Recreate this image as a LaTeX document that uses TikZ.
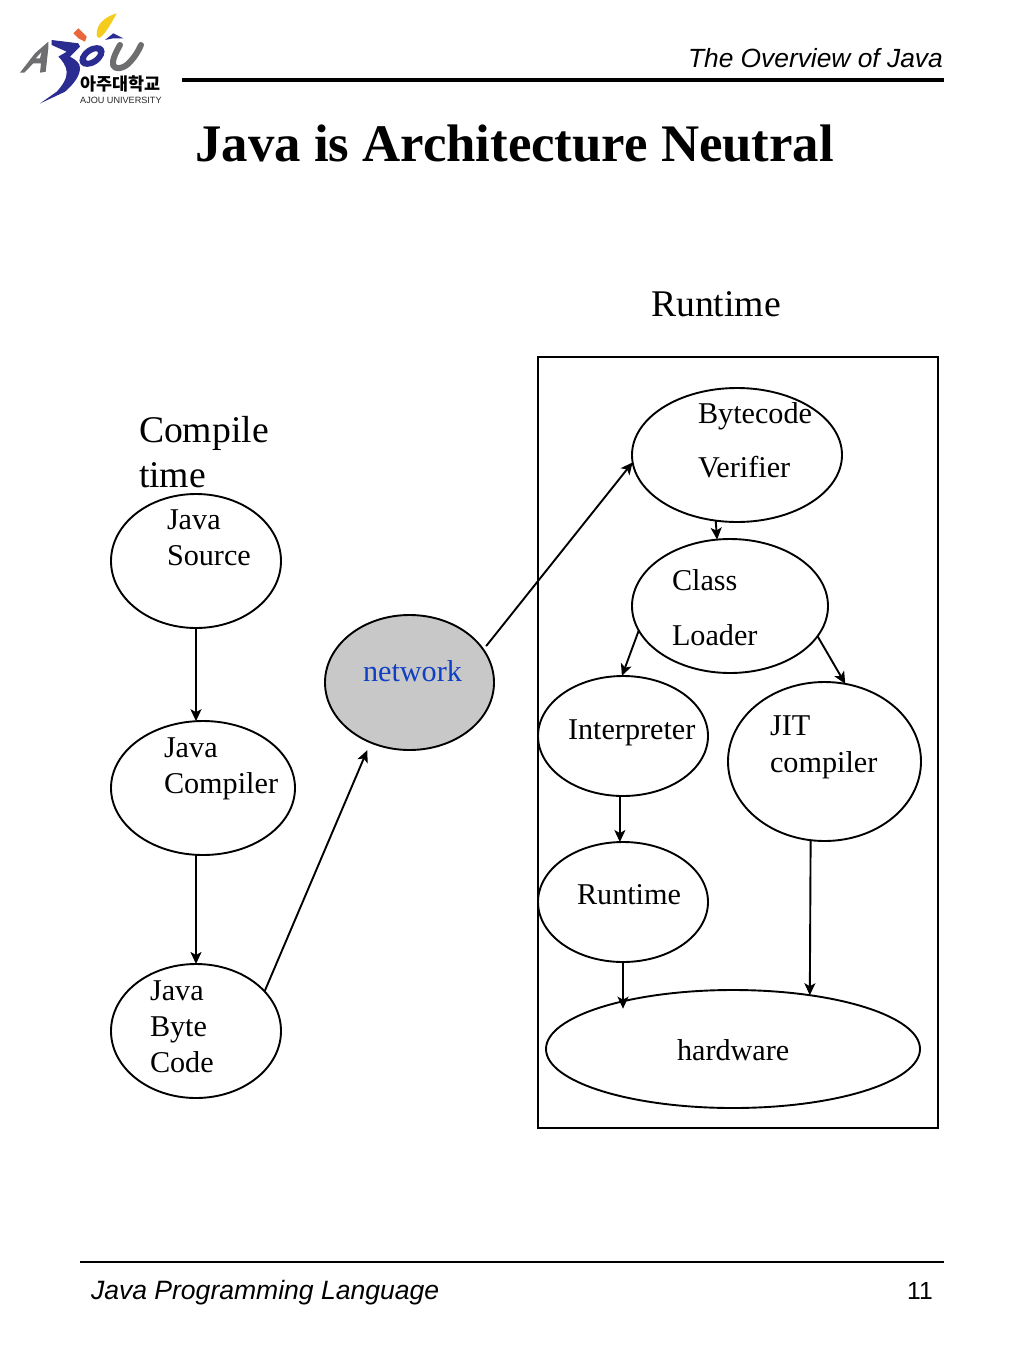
\documentclass[tikz,border=0pt]{standalone}
\usepackage{fontspec}
\setmainfont{Liberation Serif}
\setsansfont{Liberation Sans}
\newfontfamily\krfont{Noto Sans CJK KR}
\usetikzlibrary{shapes.geometric,arrows.meta}
\definecolor{logoblue}{HTML}{2B2C92}
\definecolor{logogray}{HTML}{6E6E70}
\definecolor{logoyellow}{HTML}{F5CC1E}
\definecolor{logoorange}{HTML}{E8683C}
\definecolor{netblue}{HTML}{0F3FC4}
\definecolor{netgray}{HTML}{C8C8C8}
\tikzset{
  x=1pt,y=-1pt,
  proc/.style={ellipse,draw=black,line width=1.9pt,inner sep=0pt,outer sep=0pt},
  lab/.style={anchor=base west,inner sep=0pt,outer sep=0pt,font=\fontsize{30.2}{36}\selectfont},
  bigl/.style={anchor=base west,inner sep=0pt,outer sep=0pt,font=\fontsize{37.7}{45}\selectfont},
  hdr/.style={anchor=base west,inner sep=0pt,outer sep=0pt,font=\sffamily\itshape\fontsize{26.35}{32}\selectfont},
  ftr/.style={anchor=base west,inner sep=0pt,outer sep=0pt,font=\sffamily\itshape\fontsize{26.55}{32}\selectfont},
  flow/.style={draw=black,line width=1.9pt,-{Stealth[length=12pt,width=11pt,inset=3pt]}},
  rulel/.style={draw=black,line cap=butt}
}
\newcommand{\procnode}[6]{\node[proc,minimum width=#4 pt,minimum height=#5 pt,#6] (#1) at (#2,#3) {};}
\begin{document}
\begin{tikzpicture}
\useasboundingbox (0,0) rectangle (1024,1365);
\fill[white] (0,0) rectangle (1024,1365);
% logo
\fill[logoyellow] (116.7,13.3) .. controls (104,17) and (96,25) .. (96.7,35) .. controls (97,38) and (100,39) .. (102,36) .. controls (107,31) and (112,22) .. (116.7,13.3) -- cycle;
\fill[logoorange] (73.3,33.3) -- (78.3,28.3) -- (86.7,36.7) -- (85,41.7) -- (78.3,38.3) -- cycle;
\fill[logogray,even odd rule] (20,72.7) -- (35,53.3) -- (48.3,41.7) -- (48.3,48.3) -- (45.7,71.7) -- (40,72.7) -- (41,63.3) -- (33.3,63.3) -- (24.3,72.7) -- cycle (41.7,51.7) -- (40,58.3) -- (35.7,58.3) -- cycle;
\fill[logoblue] (51.7,40) -- (78.3,43.3) -- (80,46.7) -- (70,56.7) .. controls (76,60) and (80,63) .. (80,68) .. controls (80,75) and (75,83) .. (65,91.7) -- (40,103.5) -- (56.7,91.7) .. controls (63,85) and (67,78) .. (66.7,72) .. controls (66.5,66) and (62,60) .. (58.3,56.7) -- (66.7,51.7) -- (51.7,45) -- cycle;
\begin{scope}[rotate around={35:(92,56)}]
\fill[logoblue,even odd rule] (92,56) ellipse [x radius=14pt,y radius=9pt] (92,56) ellipse [x radius=7pt,y radius=3pt];
\end{scope}
\fill[logoblue] (105,40) -- (113.3,33.3) -- (123.3,38.3) -- (113.3,38.3) -- cycle;
\draw[logogray,line width=6pt,line cap=round,line join=round] (120,45) .. controls (116,52) and (112,60) .. (113,65) .. controls (115,70) and (122,69) .. (128,64) .. controls (134,58) and (138,52) .. (141,45);
\node[anchor=base west,inner sep=0pt,font=\krfont\bfseries\fontsize{17.4}{18}\selectfont] (logokr) at (80,90) {아주대학교};
\node[anchor=base west,inner sep=0pt,text=black!85,font=\sffamily\fontsize{9.1}{10}\selectfont] (logoen) at (80,103) {AJOU UNIVERSITY};
% header / footer
\draw[rulel,line width=4pt] (182,79.5) -- (944,79.5);
\draw[rulel,line width=2pt] (80,1262) -- (944,1262);
\node[hdr] (head) at (688,67) {The Overview of Java};
\node[ftr] (foot) at (91,1299.5) {Java Programming Language};
\node[anchor=base west,inner sep=0pt,font=\sffamily\fontsize{24.7}{30}\selectfont] (pageno) at (907,1299) {11};
\node[anchor=base west,inner sep=0pt,font=\bfseries\fontsize{52.8}{60}\selectfont] (title) at (195,161) {Java is Architecture Neutral};
% container
\node[draw=black,line width=1.9pt,minimum width=400pt,minimum height=771pt,inner sep=0pt,outer sep=0pt] (rt) at (738,742.5) {};
\node[bigl] (runtimeh) at (651,316) {Runtime};
\node[bigl] (ct1) at (139,442) {Compile};
\node[bigl] (ct2) at (139,487) {time};
% ellipses
\procnode{src}{196}{561}{170}{134}{}
\procnode{cmp}{203}{788}{184}{134}{}
\procnode{byt}{196}{1031}{170}{134}{}
\procnode{net}{409.5}{682.5}{169}{135}{fill=netgray}
\procnode{ver}{737}{455}{210}{134}{}
\procnode{cls}{730}{606}{196}{134}{}
\procnode{itp}{623}{736}{170}{120}{}
\procnode{jit}{824.5}{761.5}{193}{159}{}
\procnode{run}{623}{902}{170}{120}{}
\procnode{hw}{733}{1049}{374}{118}{}
% labels
\node[lab] (l1) at (167,529) {Java};
\node[lab] (l2) at (167,565) {Source};
\node[lab] (l3) at (164,757) {Java};
\node[lab] (l4) at (164,793) {Compiler};
\node[lab] (l5) at (150,1000) {Java};
\node[lab] (l6) at (150,1036) {Byte};
\node[lab] (l7) at (150,1072) {Code};
\node[lab,text=netblue] (l8) at (363,681) {network};
\node[lab] (l9) at (698,423) {Bytecode};
\node[lab] (l10) at (698,477) {Verifier};
\node[lab] (l11) at (672,590) {Class};
\node[lab] (l12) at (672,645) {Loader};
\node[lab] (l13) at (568,739) {Interpreter};
\node[lab] (l14) at (770,735) {JIT};
\node[lab] (l15) at (770,772) {compiler};
\node[lab] (l16) at (577,904) {Runtime};
\node[lab] (l17) at (677,1060) {hardware};
% connectors
\draw[flow] (src.-90) -- (cmp.96);
\draw[flow] (cmp.-96) -- (byt.90);
\draw[flow,shorten >=8.5pt] (byt.30.7) -- (net.237);
\draw[flow,shorten <=4.5pt] (net.24.6) -- (ver.184.4);
\draw[flow] (ver.252.2) -- (cls.101.8);
\draw[flow] (cls.195.4) -- (itp.91);
\draw[flow] (cls.-19.2) -- (jit.75.5);
\draw[flow] (itp.-93.9) -- (run.93.9);
\draw[flow,shorten >=-7pt] (run.-90) -- (run.-90 |- hw.157);
\draw[flow] (jit.-100.6) -- (hw.35.2);
\end{tikzpicture}
\end{document}
